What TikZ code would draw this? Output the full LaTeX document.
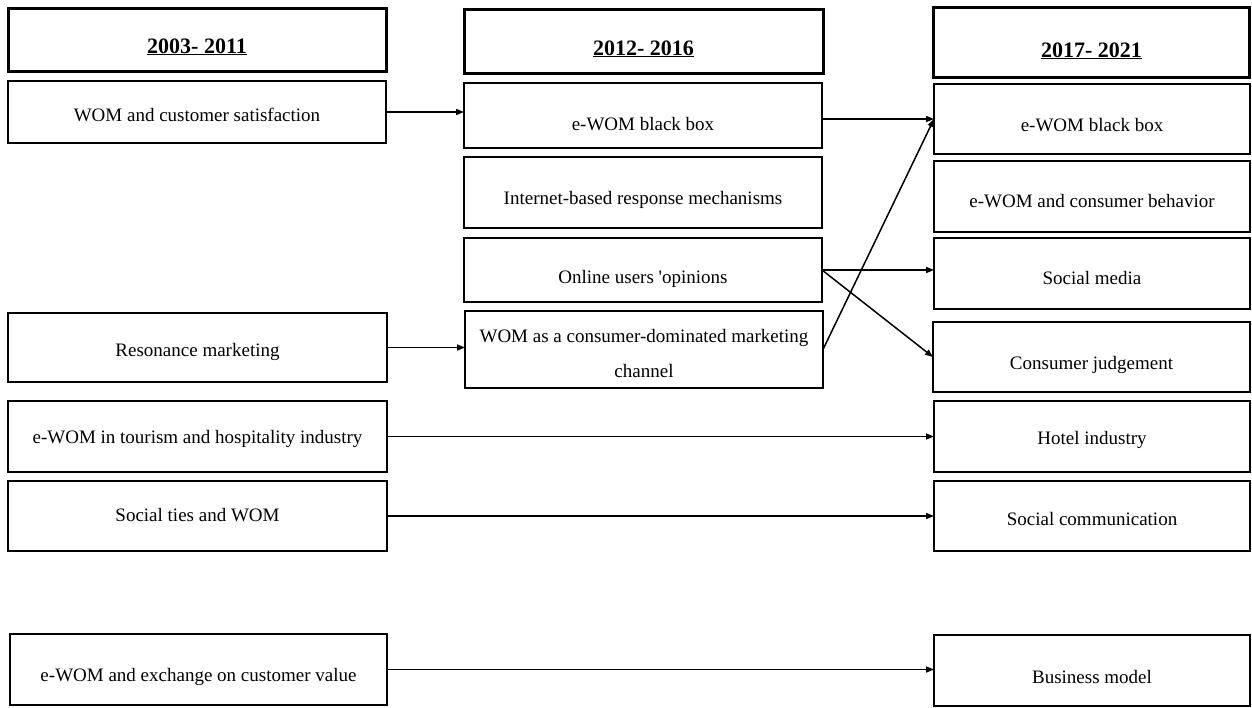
\documentclass[tikz,border=0pt]{standalone}
\usepackage{fontspec}
\setmainfont{Liberation Serif}
\usetikzlibrary{arrows.meta}
\begin{document}
\begin{tikzpicture}[x=1pt,y=-1pt,
  every node/.style={inner sep=0pt, outer sep=0pt},
  period/.style={draw, line width=3pt, text depth=0pt, font=\fontsize{22}{26}\selectfont\bfseries},
  topic/.style={draw, line width=1.1pt, align=center, font=\fontsize{19}{35}\selectfont},
  low/.style={text height=#1, text depth=0pt},
  link/.style={line width=1.5pt, -{Triangle[length=8pt,width=6pt]}}]
\useasboundingbox (0,0) rectangle (1252,707);

% period headers
\node[period, text height=27pt, minimum width=378, minimum height=63] (h1) at (197,39.5) {\underline{2003- 2011}};
\node[period, text height=28pt, minimum width=359, minimum height=64] (h2) at (643.5,41) {\underline{2012- 2016}};
\node[period, text height=29pt, minimum width=316, minimum height=70] (h3) at (1091.5,42.5) {\underline{2017- 2021}};

% 2003-2011 column
\node[topic, low=19.5pt, minimum width=378, minimum height=62] (a1) at (197,112) {WOM and customer satisfaction};
\node[topic, low=17.5pt, minimum width=379, minimum height=69] (a2) at (197.5,347.5) {Resonance marketing};
\node[topic, low=13.5pt, minimum width=379, minimum height=71] (a3) at (197.5,436.5) {e-WOM in tourism and hospitality industry};
\node[topic, low=11.5pt, minimum width=379, minimum height=70] (a4) at (197.5,516) {Social ties and WOM};
\node[topic, low=23.5pt, minimum width=377, minimum height=71] (a5) at (198.5,669.5) {e-WOM and exchange on customer value};

% 2012-2016 column
\node[topic, low=29.5pt, minimum width=358, minimum height=65] (b1) at (643,115.5) {e-WOM black box};
\node[topic, low=23.5pt, minimum width=358, minimum height=71] (b2) at (643,192.5) {Internet-based response mechanisms};
\node[topic, low=27.5pt, minimum width=358, minimum height=64] (b3) at (643,270) {Online users \textquotesingle opinions};
\node[topic, text height=55.5pt, minimum width=358, minimum height=77] (b4) at (644,349.5) {WOM as a consumer-dominated marketing\\channel};

% 2017-2021 column
\node[topic, low=25.5pt, minimum width=316, minimum height=70] (c1) at (1092,119) {e-WOM black box};
\node[topic, low=21.5pt, minimum width=316, minimum height=71] (c2) at (1092,196.5) {e-WOM and consumer behavior};
\node[topic, low=21.5pt, minimum width=316, minimum height=71] (c3) at (1092,273.5) {Social media};
\node[topic, low=25.5pt, minimum width=317, minimum height=70] (c4) at (1091.5,357) {Consumer judgement};
\node[topic, low=15.5pt, minimum width=316, minimum height=71] (c5) at (1092,436.5) {Hotel industry};
\node[topic, low=19.5pt, minimum width=316, minimum height=70] (c6) at (1092,516) {Social communication};
\node[topic, low=25.5pt, minimum width=316, minimum height=71] (c7) at (1092,670.5) {Business model};

% connections between periods
\draw[link] (a1.east) -- (a1.east -| b1.west);
\draw[link] (b1.east |- c1.west) -- (c1.west);
\draw[link] (b4.east) -- (c1.west);
\draw[link] (b3.east) -- (b3.east -| c3.west);
\draw[link] (b3.east) -- (c4.west);
\draw[link] (a2.east) -- (a2.east -| b4.west);
\draw[link] (a3.east) -- (a3.east -| c5.west);
\draw[link] (a4.east) -- (a4.east -| c6.west);
\draw[link] (a5.east) -- (a5.east -| c7.west);
\end{tikzpicture}
\end{document}
